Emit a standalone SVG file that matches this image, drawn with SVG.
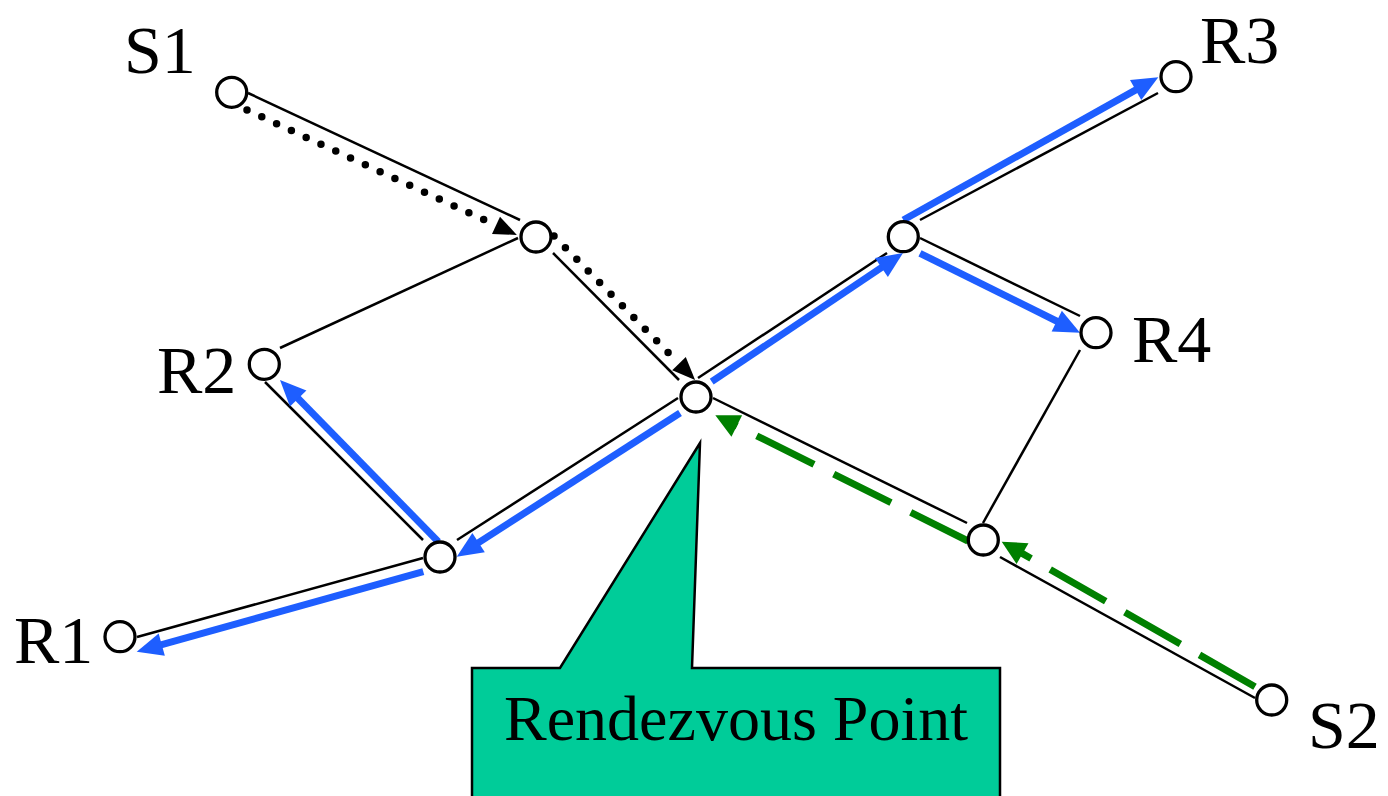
<svg xmlns="http://www.w3.org/2000/svg" width="1388" height="796" viewBox="0 0 1388 796">
<style>
.link{stroke:#000;stroke-width:2.5;fill:none}
.dot{stroke:#000;stroke-width:7.5;stroke-linecap:round;stroke-dasharray:0 16.3;fill:none}
.blue{stroke:#1E5EFF;stroke-width:7;fill:none}
.green{stroke:#008000;stroke-width:7;stroke-dasharray:64 22;fill:none}
.node{fill:#fff;stroke:#000;stroke-width:3.3}
.lbl{font-family:"Liberation Serif","Times New Roman",serif;font-size:68px;fill:#000}
.callout{fill:#00CC99;stroke:#000;stroke-width:2.5}
.ctext{font-family:"Liberation Serif","Times New Roman",serif;font-size:64px;fill:#000;text-anchor:middle}
</style>
<defs>
<marker id="ab" markerUnits="userSpaceOnUse" markerWidth="26" markerHeight="23" refX="12" refY="11.5" orient="auto" overflow="visible"><path d="M0,0 L26,11.5 L0,23 Z" fill="#1E5EFF"/></marker>
<marker id="ak" markerUnits="userSpaceOnUse" markerWidth="23" markerHeight="19" refX="0" refY="9.5" orient="auto" overflow="visible"><path d="M0,0 L23,9.5 L0,19 Z" fill="#000"/></marker>
<marker id="ag" markerUnits="userSpaceOnUse" markerWidth="24" markerHeight="24" refX="2" refY="12" orient="auto" overflow="visible"><path d="M0,0 L24,12 L0,24 Z" fill="#008000"/></marker>
</defs>
<g id="connectors">
<line class="link" x1="248" y1="93" x2="520" y2="220"/>
<line class="link" x1="518" y1="238" x2="280" y2="348"/>
<line class="link" x1="553" y1="253" x2="679" y2="380"/>
<line class="link" x1="698" y1="378" x2="887" y2="253"/>
<line class="link" x1="678" y1="398" x2="457" y2="540"/>
<line class="link" x1="713" y1="398" x2="967" y2="523"/>
<line class="link" x1="423" y1="540" x2="265" y2="382"/>
<line class="link" x1="423" y1="558" x2="137" y2="637"/>
<line class="link" x1="920" y1="220" x2="1158" y2="93"/>
<line class="link" x1="920" y1="238" x2="1080" y2="316"/>
<line class="link" x1="1080" y1="350" x2="983" y2="523"/>
<line class="link" x1="1000" y1="557" x2="1255" y2="698"/>
<line class="dot" x1="247" y1="110" x2="496" y2="225.3" marker-end="url(#ak)"/>
<line class="dot" x1="554" y1="236" x2="679" y2="363.6" marker-end="url(#ak)"/>
<line class="blue" x1="711.7" y1="381.7" x2="891.4" y2="260.8" marker-end="url(#ab)"/>
<line class="blue" x1="680" y1="413" x2="468.5" y2="549.1" marker-end="url(#ab)"/>
<line class="blue" x1="438.3" y1="541.7" x2="289.8" y2="390" marker-end="url(#ab)"/>
<line class="blue" x1="423.3" y1="571.7" x2="150.2" y2="647.9" marker-end="url(#ab)"/>
<line class="blue" x1="903.3" y1="220" x2="1146.1" y2="84.1" marker-end="url(#ab)"/>
<line class="blue" x1="920" y1="253.3" x2="1067.5" y2="326.5" marker-end="url(#ab)"/>
<line class="green" x1="968" y1="541" x2="735" y2="425" marker-end="url(#ag)"/>
<line class="green" x1="1255" y1="686.7" x2="1020.8" y2="552.6" marker-end="url(#ag)"/>
</g>
<g id="S1"><circle class="node" cx="231.7" cy="92.3" r="15"/><text class="lbl" x="124" y="73">S1</text></g>
<g id="A"><circle class="node" cx="536" cy="237" r="15"/></g>
<g id="RP"><circle class="node" cx="696" cy="397" r="15"/></g>
<g id="R2"><circle class="node" cx="264.3" cy="364.3" r="15"/><text class="lbl" x="157" y="393">R2</text></g>
<g id="B"><circle class="node" cx="440" cy="557" r="15"/></g>
<g id="R1"><circle class="node" cx="120" cy="636.7" r="15"/><text class="lbl" x="14" y="663">R1</text></g>
<g id="C"><circle class="node" cx="903.3" cy="236.7" r="15"/></g>
<g id="R3"><circle class="node" cx="1176" cy="76.7" r="15"/><text class="lbl" x="1200" y="63">R3</text></g>
<g id="R4"><circle class="node" cx="1096" cy="332.7" r="15"/><text class="lbl" x="1132" y="362">R4</text></g>
<g id="D"><circle class="node" cx="983.3" cy="540" r="15"/></g>
<g id="S2"><circle class="node" cx="1271.7" cy="700" r="15"/><text class="lbl" x="1308" y="748">S2</text></g>
<g id="callout">
<path class="callout" d="M472,668 L560,668 L700,443 L692,668 L1000,668 L1000,800 L472,800 Z"/>
<text class="ctext" x="736" y="740">Rendezvous Point</text>
</g>
</svg>
